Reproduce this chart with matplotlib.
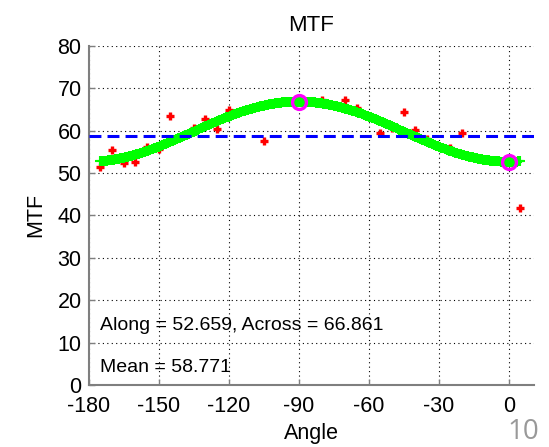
import numpy as np
import matplotlib
matplotlib.use("Agg")
import matplotlib.pyplot as plt

plt.rcParams["font.family"] = ["Liberation Sans", "DejaVu Sans"]
plt.rcParams["axes.unicode_minus"] = False

# measured MTF samples (deg, value)
angles = [-175, -170, -165, -160, -155, -150, -145, -135, -130, -125, -120,
          -105, -80, -70, -65, -55, -50, -45, -40, -35, -25, -20, 5]
mtf_values = [51.5, 55.4, 52.3, 52.6, 56.2, 55.7, 63.5, 60.7, 62.7, 60.3, 64.9,
              57.5, 67.1, 67.2, 65.4, 59.5, 60.5, 64.3, 60.1, 58.1, 55.8, 59.4, 41.8]

# fitted along/across values and mean
along = 52.659
across = 66.861
mean_mtf = 58.771
along_angle = 0
across_angle = -90

x_ticks = [-180, -150, -120, -90, -60, -30, 0]
y_ticks = [0, 10, 20, 30, 40, 50, 60, 70, 80]

fig = plt.figure(figsize=(5.49, 4.47), dpi=100)
ax = fig.add_axes([88.5 / 549, 1 - 385 / 447, (534 - 88.5) / 549, (385 - 45.8) / 447])

# data points
ax.plot(angles, mtf_values, linestyle="none", marker="+", color="red",
        markersize=6, markeredgewidth=2.4, zorder=3)

# directional fit: along*cos^2 + across*sin^2
fit_angles = np.arange(-175, 5.25, 0.5)
rad = np.deg2rad(fit_angles)
fit = along * np.cos(rad) ** 2 + across * np.sin(rad) ** 2
ax.plot(fit_angles, fit, linestyle="none", marker="+", color=(0, 1, 0),
        markersize=6.5, markeredgewidth=1.5, zorder=4)

# mean level
ax.axhline(mean_mtf, color="blue", linewidth=2.2, linestyle=(0, (3.9, 2.0)), zorder=5)

# along / across markers
ax.plot([across_angle, along_angle], [across, along], linestyle="none", marker="o",
        markersize=10, markerfacecolor="none", markeredgecolor="magenta",
        markeredgewidth=2.4, zorder=6)

ax.text(-175, 14.0, f"Along = {along:.3f}, Across = {across:.3f}",
        fontsize=14, va="center", ha="left")
ax.text(-175, 4.2, f"Mean = {mean_mtf:.3f}", fontsize=14, va="center", ha="left")

ax.set_xlim(-180, 10.8)
ax.set_ylim(0, 80)
ax.set_xticks(x_ticks)
ax.set_yticks(y_ticks)
ax.grid(True, color="black", linewidth=0.8, linestyle=(0, (1, 3)))
ax.set_axisbelow(True)

for side in ("top", "right"):
    ax.spines[side].set_visible(False)
for side in ("left", "bottom"):
    ax.spines[side].set_color("#7f7f7f")
    ax.spines[side].set_linewidth(1.5)
ax.tick_params(direction="in", length=4, width=1, color="#7f7f7f", labelsize=15.5)
ax.tick_params(axis="x", pad=8)
ax.tick_params(axis="y", pad=5)

ax.set_title("MTF", fontsize=16, pad=11)
ax.set_xlabel("Angle", fontsize=15.5, labelpad=4)
ax.set_ylabel("MTF", fontsize=15.5, labelpad=8)

fig.text(523 / 549, 1 - 432 / 447, "10", fontsize=20, color="#999999",
         ha="center", va="center", family=["Open Sans", "DejaVu Sans"])

fig.savefig("out.png", dpi=100)
